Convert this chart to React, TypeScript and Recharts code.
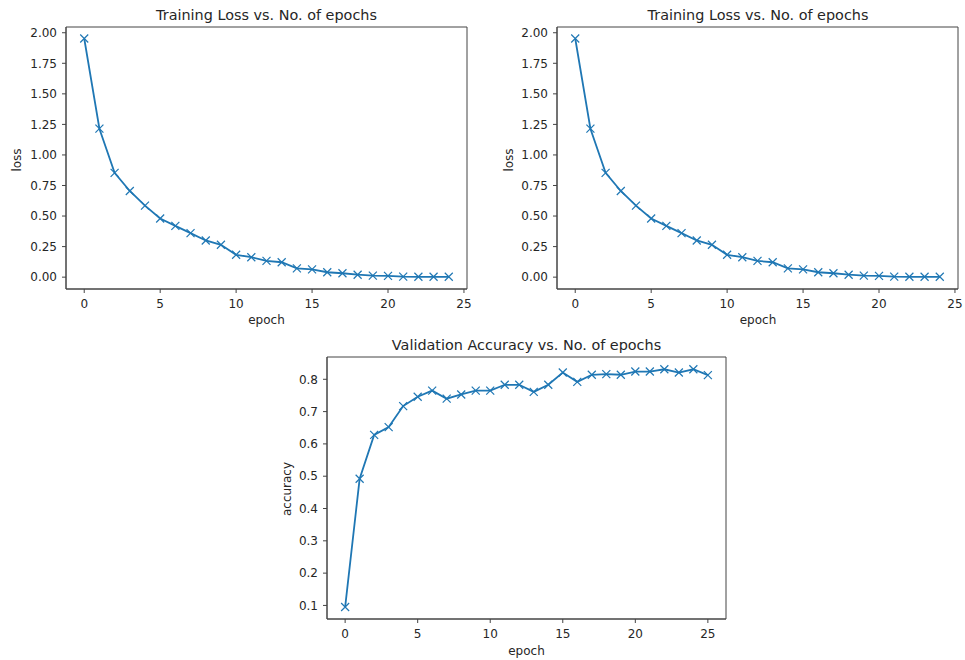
import { LineChart, Line, XAxis, YAxis, ReferenceArea } from "recharts";

const lossEpochs = [0, 1, 2, 3, 4, 5, 6, 7, 8, 9, 10, 11, 12, 13, 14, 15, 16, 17, 18, 19, 20, 21, 22, 23, 24];
const lossValues = [
  1.953, 1.215, 0.853, 0.705, 0.585, 0.48, 0.42, 0.36, 0.3, 0.265, 0.183, 0.163, 0.133, 0.122, 0.072, 0.063,
  0.04, 0.032, 0.02, 0.012, 0.01, 0.004, 0.003, 0.003, 0.003,
];
const accEpochs = [0, 1, 2, 3, 4, 5, 6, 7, 8, 9, 10, 11, 12, 13, 14, 15, 16, 17, 18, 19, 20, 21, 22, 23, 24, 25];
const accValues = [
  0.095, 0.492, 0.628, 0.652, 0.717, 0.746, 0.765, 0.74, 0.753, 0.765, 0.765, 0.783, 0.783, 0.761, 0.783, 0.821,
  0.792, 0.814, 0.816, 0.814, 0.824, 0.824, 0.831, 0.821, 0.831, 0.813,
];
const epochTicks = [0, 5, 10, 15, 20, 25];
const lossTicks = [0, 0.25, 0.5, 0.75, 1.0, 1.25, 1.5, 1.75, 2.0];
const accTicks = [0.1, 0.2, 0.3, 0.4, 0.5, 0.6, 0.7, 0.8];

const lossData = lossEpochs.map((e, i) => ({ epoch: e, loss: lossValues[i] }));
const accData = accEpochs.map((e, i) => ({ epoch: e, accuracy: accValues[i] }));

const BLUE = "#1f77b4";
const TEXT = "#262626";
const SPINE = "#444";
const FONT = "'DejaVu Sans', sans-serif";

// matplotlib 'x' marker
const XMark = (props: any) => {
  const { cx, cy } = props;
  if (cx == null || cy == null) return null;
  const s = 4;
  return (
    <path
      d={`M${cx - s},${cy - s}L${cx + s},${cy + s}M${cx - s},${cy + s}L${cx + s},${cy - s}`}
      stroke={BLUE}
      strokeWidth={1.2}
      fill="none"
    />
  );
};

const tickStyle = { fontSize: 12, fill: TEXT, fontFamily: FONT };

function Txt({ x, y, text, size, rotate }: { x: number; y: number; text: string; size: number; rotate?: boolean }) {
  return (
    <div
      style={{
        position: "absolute",
        left: x,
        top: y,
        transform: `translate(-50%, -50%)${rotate ? " rotate(-90deg)" : ""}`,
        fontFamily: FONT,
        fontSize: size,
        color: TEXT,
        whiteSpace: "nowrap",
        lineHeight: 1,
      }}
    >
      {text}
    </div>
  );
}

function LossChart({ left, yWidth, width }: { left: number; yWidth: number; width: number }) {
  const xDomain = [-1.2, 25.2];
  const yDomain = [-0.097, 2.047];
  return (
    <div style={{ position: "absolute", left, top: 0 }}>
      <LineChart width={width} height={330} data={lossData} margin={{ top: 27, right: width - yWidth - 401, left: 0, bottom: 0 }}>
        <XAxis
          dataKey="epoch"
          type="number"
          domain={xDomain}
          ticks={epochTicks}
          height={41}
          tickSize={4}
          tickMargin={6}
          tick={tickStyle}
          stroke={SPINE}
        />
        <YAxis
          type="number"
          domain={yDomain}
          ticks={lossTicks}
          width={yWidth}
          tickSize={4}
          tickMargin={5}
          tick={tickStyle}
          stroke={SPINE}
          tickFormatter={(v: number) => v.toFixed(2)}
        />
        <ReferenceArea x1={xDomain[0]} x2={xDomain[1]} y1={yDomain[0]} y2={yDomain[1]} fill="none" stroke={SPINE} strokeWidth={1} />
        <Line
          type="linear"
          dataKey="loss"
          stroke={BLUE}
          strokeWidth={1.8}
          dot={<XMark />}
          activeDot={false}
          isAnimationActive={false}
        />
      </LineChart>
    </div>
  );
}

function AccuracyChart() {
  const xDomain = [-1.25, 26.25];
  const yDomain = [0.058, 0.869];
  return (
    <div style={{ position: "absolute", left: 270, top: 330 }}>
      <LineChart width={460} height={330} data={accData} margin={{ top: 27, right: 4, left: 0, bottom: 0 }}>
        <XAxis
          dataKey="epoch"
          type="number"
          domain={xDomain}
          ticks={epochTicks}
          height={41}
          tickSize={4}
          tickMargin={6}
          tick={tickStyle}
          stroke={SPINE}
        />
        <YAxis
          type="number"
          domain={yDomain}
          ticks={accTicks}
          width={57}
          tickSize={4}
          tickMargin={5}
          tick={tickStyle}
          stroke={SPINE}
          tickFormatter={(v: number) => v.toFixed(1)}
        />
        <ReferenceArea x1={xDomain[0]} x2={xDomain[1]} y1={yDomain[0]} y2={yDomain[1]} fill="none" stroke={SPINE} strokeWidth={1} />
        <Line
          type="linear"
          dataKey="accuracy"
          stroke={BLUE}
          strokeWidth={1.8}
          dot={<XMark />}
          activeDot={false}
          isAnimationActive={false}
        />
      </LineChart>
    </div>
  );
}

export default function App() {
  return (
    <div style={{ position: "absolute", left: 0, top: 0, width: 965, height: 660, background: "#fff" }}>
      <LossChart left={0} yWidth={66} width={480} />
      <LossChart left={480} yWidth={77} width={485} />
      <AccuracyChart />

      <Txt x={266.5} y={15} text="Training Loss vs. No. of epochs" size={14.4} />
      <Txt x={266.5} y={320} text="epoch" size={12} />
      <Txt x={17} y={160} text="loss" size={12} rotate />

      <Txt x={758} y={15} text="Training Loss vs. No. of epochs" size={14.4} />
      <Txt x={758} y={320} text="epoch" size={12} />
      <Txt x={509} y={160} text="loss" size={12} rotate />

      <Txt x={526.5} y={345} text="Validation Accuracy vs. No. of epochs" size={14.4} />
      <Txt x={526.5} y={651} text="epoch" size={12} />
      <Txt x={287} y={489} text="accuracy" size={12} rotate />
    </div>
  );
}
